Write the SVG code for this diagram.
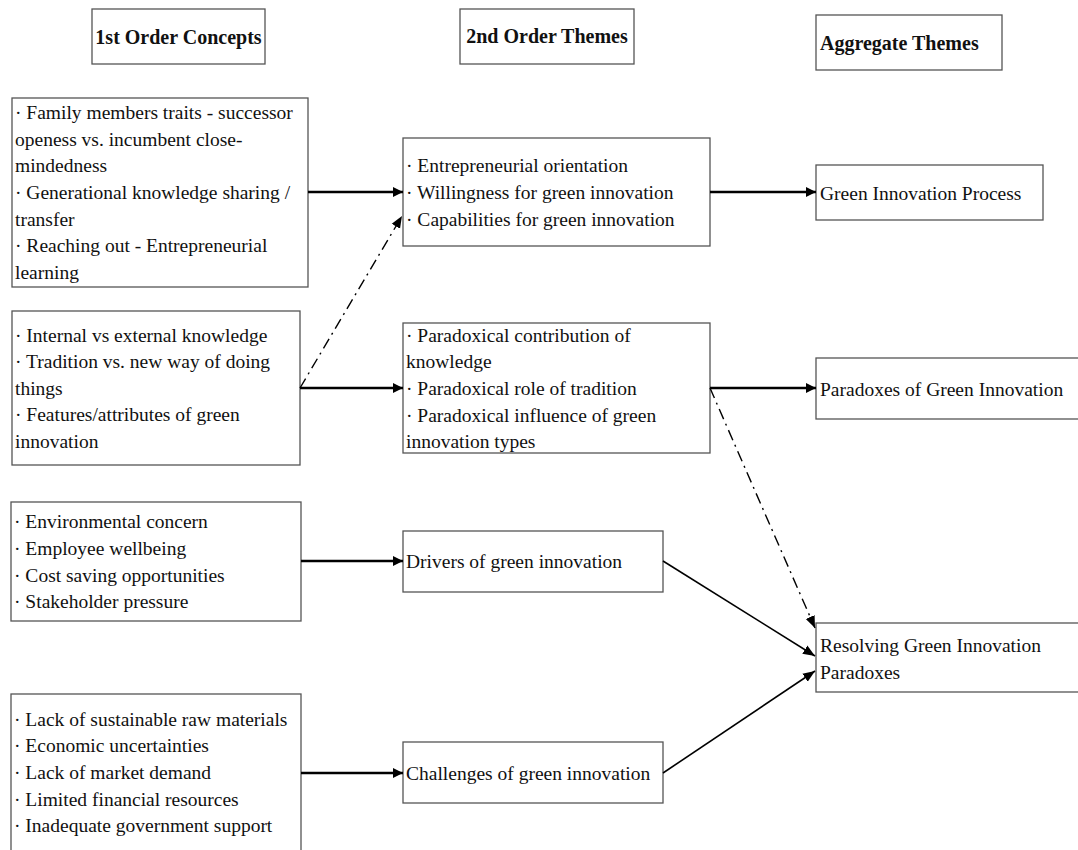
<svg xmlns="http://www.w3.org/2000/svg" width="1078" height="850" viewBox="0 0 1078 850">
<style>
.box{fill:#fff;stroke:#555;stroke-width:1.3}
text{font-family:"Liberation Serif","DejaVu Serif",serif;font-size:19.5px;fill:#111}
.h{font-weight:bold;font-size:20px}
.thick{stroke:#000;stroke-width:2.6;fill:none}
.thin{stroke:#000;stroke-width:1.6;fill:none}
.dd{stroke:#000;stroke-width:1.4;fill:none;stroke-dasharray:11 5 2 5}
</style>
<defs>
<marker id="ah" viewBox="0 0 10 10" refX="10" refY="5" markerWidth="10" markerHeight="10" markerUnits="userSpaceOnUse" orient="auto"><path d="M0,0 L10,5 L0,10 z" fill="#000"/></marker>
<marker id="ah2" viewBox="0 0 10 10" refX="10" refY="5" markerWidth="12" markerHeight="12" markerUnits="userSpaceOnUse" orient="auto"><path d="M0,1 L10,5 L0,9 z" fill="#000"/></marker>
</defs>
<rect width="1078" height="850" fill="#fff"/>
<g id="h1"><rect class="box" x="92" y="9" width="173" height="55"/><text class="h" x="178.5" y="44" text-anchor="middle">1st Order Concepts</text></g>
<g id="h2"><rect class="box" x="460" y="9" width="174" height="55"/><text class="h" x="547" y="43" text-anchor="middle">2nd Order Themes</text></g>
<g id="h3"><rect class="box" x="816" y="15" width="186" height="55"/><text class="h" x="820" y="50">Aggregate Themes</text></g>

<g id="a1"><rect class="box" x="12" y="98" width="296" height="189"/>
<text x="15" y="119">· Family members traits - successor</text>
<text x="15" y="146">openess vs. incumbent close-</text>
<text x="15" y="172">mindedness</text>
<text x="15" y="199">· Generational knowledge sharing /</text>
<text x="15" y="226">transfer</text>
<text x="15" y="252">· Reaching out - Entrepreneurial</text>
<text x="15" y="279">learning</text></g>

<g id="a2"><rect class="box" x="12" y="311" width="288" height="154"/>
<text x="15" y="342">· Internal vs external knowledge</text>
<text x="15" y="368">· Tradition vs. new way of doing</text>
<text x="15" y="395">things</text>
<text x="15" y="421">· Features/attributes of green</text>
<text x="15" y="448">innovation</text></g>

<g id="a3"><rect class="box" x="11" y="502" width="290" height="119"/>
<text x="14" y="528">· Environmental concern</text>
<text x="14" y="555">· Employee wellbeing</text>
<text x="14" y="582">· Cost saving opportunities</text>
<text x="14" y="608">· Stakeholder pressure</text></g>

<g id="a4"><rect class="box" x="11" y="694" width="290" height="170"/>
<text x="14" y="726">· Lack of sustainable raw materials</text>
<text x="14" y="752">· Economic uncertainties</text>
<text x="14" y="779">· Lack of market demand</text>
<text x="14" y="806">· Limited financial resources</text>
<text x="14" y="832">· Inadequate government support</text></g>

<g id="b1"><rect class="box" x="403" y="138" width="307" height="108"/>
<text x="406" y="172">· Entrepreneurial orientation</text>
<text x="406" y="199">· Willingness for green innovation</text>
<text x="406" y="226">· Capabilities for green innovation</text></g>

<g id="b2"><rect class="box" x="403" y="323" width="307" height="130"/>
<text x="406" y="342">· Paradoxical contribution of</text>
<text x="406" y="368">knowledge</text>
<text x="406" y="395">· Paradoxical role of tradition</text>
<text x="406" y="422">· Paradoxical influence of green</text>
<text x="406" y="448">innovation types</text></g>

<g id="b3"><rect class="box" x="403" y="531" width="260" height="61"/>
<text x="406" y="568">Drivers of green innovation</text></g>

<g id="b4"><rect class="box" x="403" y="742" width="260" height="61"/>
<text x="406" y="780">Challenges of green innovation</text></g>

<g id="c1"><rect class="box" x="816" y="165" width="227" height="55"/>
<text x="820" y="200">Green Innovation Process</text></g>

<g id="c2"><rect class="box" x="816" y="358" width="270" height="61"/>
<text x="820" y="396">Paradoxes of Green Innovation</text></g>

<g id="c3"><rect class="box" x="816" y="623" width="270" height="69"/>
<text x="820" y="652">Resolving Green Innovation</text>
<text x="820" y="679">Paradoxes</text></g>

<g id="connectors">
<line class="thick" x1="308" y1="192" x2="403" y2="192" marker-end="url(#ah)"/>
<line class="thick" x1="300" y1="388" x2="403" y2="388" marker-end="url(#ah)"/>
<line class="thick" x1="301" y1="561" x2="403" y2="561" marker-end="url(#ah)"/>
<line class="thick" x1="301" y1="773" x2="403" y2="773" marker-end="url(#ah)"/>
<line class="thick" x1="710" y1="192" x2="816" y2="192" marker-end="url(#ah)"/>
<line class="thick" x1="710" y1="388" x2="816" y2="388" marker-end="url(#ah)"/>
<line class="dd" x1="300" y1="388" x2="402" y2="216" marker-end="url(#ah2)"/>
<line class="dd" x1="710" y1="388" x2="815" y2="628" marker-end="url(#ah2)"/>
<line class="thin" x1="663" y1="561" x2="815" y2="656" marker-end="url(#ah2)"/>
<line class="thin" x1="663" y1="773" x2="815" y2="671" marker-end="url(#ah2)"/>
</g>
</svg>
